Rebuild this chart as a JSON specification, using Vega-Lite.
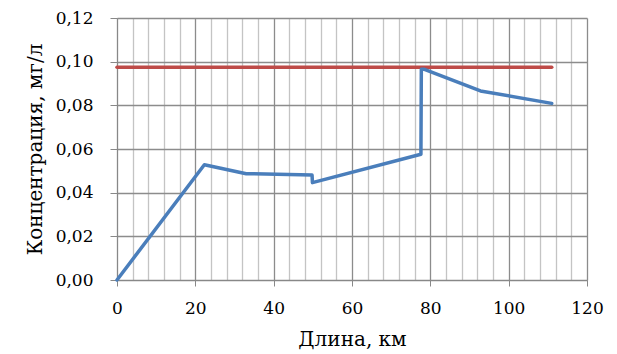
{
  "$schema": "https://vega.github.io/schema/vega-lite/v6.json",
  "width": 470,
  "height": 262,
  "autosize": {"type": "none"},
  "padding": {"left": 117, "top": 18, "right": 30, "bottom": 74},
  "background": "white",
  "config": {
    "view": {"stroke": null},
    "axis": {"labelFont": "DejaVu Serif", "titleFont": "DejaVu Serif", "labelFontSize": 17, "titleFontSize": 20, "labelColor": "#000", "titleColor": "#000", "titleFontWeight": "normal", "labelOverlap": false}
  },
  "datasets": {
    "conc": [
      {"x": 0, "y": 0},
      {"x": 22.3, "y": 0.0528},
      {"x": 33, "y": 0.0487},
      {"x": 49.8, "y": 0.0481},
      {"x": 49.9, "y": 0.0446},
      {"x": 77.6, "y": 0.0576},
      {"x": 77.7, "y": 0.0965},
      {"x": 78.5, "y": 0.0965},
      {"x": 92.8, "y": 0.0866},
      {"x": 111, "y": 0.0809}
    ],
    "limit": [
      {"x": 0, "y": 0.0975},
      {"x": 111, "y": 0.0975}
    ]
  },
  "layer": [
    {
      "data": {"name": "limit"},
      "mark": {"type": "line", "color": "#BE4B48", "strokeWidth": 3.5, "strokeCap": "round"},
      "encoding": {
        "x": {"field": "x", "type": "quantitative", "scale": {"domain": [0, 120], "nice": false},
          "axis": {
            "values": [0,4,8,12,16,20,24,28,32,36,40,44,48,52,56,60,64,68,72,76,80,84,88,92,96,100,104,108,112,116,120],
            "tickCount": 60,
            "labelExpr": "datum.value % 20 === 0 ? datum.label : ''",
            "labelOverlap": false,
            "title": "Длина, км",
            "titlePadding": 13,
            "labelPadding": 14,
            "domainColor": "#888",
            "tickSize": 6,
            "tickColor": {"condition": {"test": "datum.value % 20 === 0", "value": "#888"}, "value": "transparent"},
            "gridColor": {"condition": {"test": "datum.value % 20 === 0", "value": "#8c8c8c"}, "value": "#c4c4c4"},
            "gridWidth": 1.3,
            "labelFlush": false
          }},
        "y": {"field": "y", "type": "quantitative", "scale": {"domain": [0, 0.12], "nice": false},
          "axis": {
            "values": [0, 0.02, 0.04, 0.06, 0.08, 0.1, 0.12],
            "tickCount": 20,
            "labelExpr": "replace(format(datum.value, '.2f'), '.', ',')",
            "title": "Концентрация, мг/л",
            "titlePadding": 10,
            "labelPadding": 17,
            "domainColor": "#888",
            "tickColor": "#888",
            "tickSize": 7,
            "gridColor": "#8c8c8c",
            "gridWidth": 1.3,
            "labelFlush": false
          }}
      }
    },
    {
      "data": {"name": "conc"},
      "mark": {"type": "line", "color": "#4A7EBB", "strokeWidth": 3.5, "strokeCap": "round", "strokeJoin": "round"},
      "encoding": {
        "x": {"field": "x", "type": "quantitative"},
        "y": {"field": "y", "type": "quantitative"}
      }
    }
  ]
}
